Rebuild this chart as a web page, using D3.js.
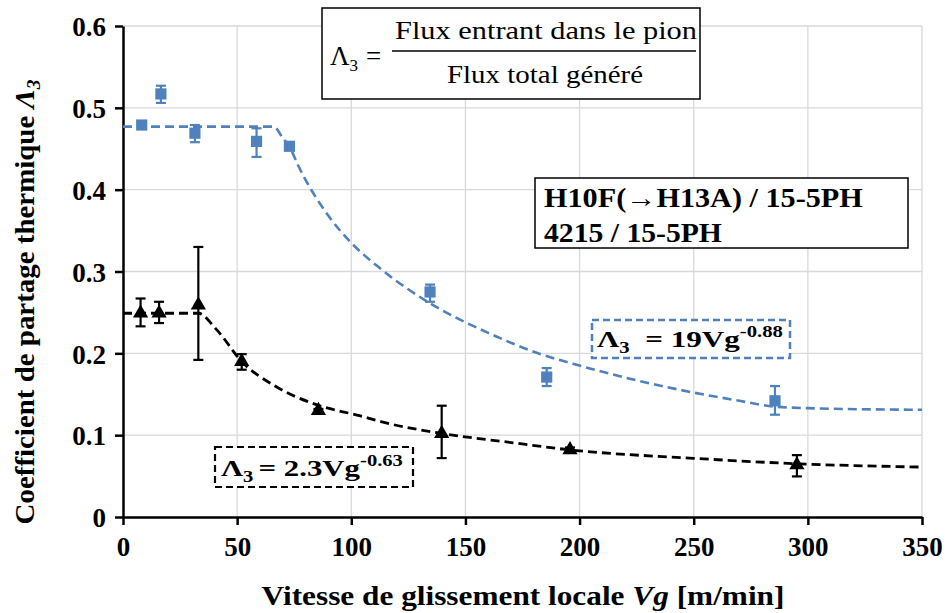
<!DOCTYPE html>
<html><head><meta charset="utf-8">
<script src="https://cdn.jsdelivr.net/npm/d3@7"></script>
<style>
body{margin:0;background:#fff;}
svg{display:block;}
svg text{font-family:"Liberation Serif","Tinos","Times New Roman","Times","DejaVu Serif Condensed","DejaVu Serif","Noto Serif",serif !important; font-stretch:condensed;}
</style></head>
<body><div id="chart"></div>
<script>
// ---- data ----
const xTicks = [0,50,100,150,200,250,300,350];
const yTicks = [0,0.1,0.2,0.3,0.4,0.5,0.6];
const yTickLabels = ["0","0.1","0.2","0.3","0.4","0.5","0.6"];

const seriesNames = ["H10F(\u2192H13A) / 15-5PH","4215 / 15-5PH"];

const blueX = [8.2,16.6,31.5,58.5,72.9,134.5,185.6,285.6];
const blueY = [0.479,0.517,0.469,0.459,0.453,0.275,0.171,0.142];
const blueErrPlus = [0.002,0.010,0.010,0.016,0.003,0.009,0.011,0.018];
const blueErrMinus = [0.002,0.011,0.011,0.019,0.003,0.012,0.011,0.017];

const blackX = [7.7,15.8,33,52,85.6,139.6,195.8,295.2];
const blackY = [0.249,0.249,0.259,0.19,0.130,0.102,0.082,0.0636];
const blackErrPlus = [0.018,0.014,0.071,0.009,0.002,0.034,0.003,0.012];
const blackErrMinus = [0.016,0.012,0.067,0.010,0.002,0.030,0.003,0.014];

// fitted curves
const blueFitX = [0,66,70,73,77,90,100,113,134,160,183,200,225,250,270,285,300,350];
const blueFitY = [0.477,0.477,0.463,0.452,0.428,0.368,0.335,0.303,0.262,0.225,0.199,0.185,0.167,0.152,0.142,0.135,0.133,0.131];
const blackFitX = [0,33,41,52,66,85,104,113,140,170,196,250,296,350];
const blackFitY = [0.249,0.249,0.229,0.19,0.161,0.137,0.1235,0.1165,0.102,0.091,0.082,0.0717,0.065,0.061];

// ---- layout ----
const W = 947, H = 613;
const m = {left:123, right:947-922, top:26, bottom:613-517};
const blue = "#4f81bd";
const svg = d3.select("#chart").append("svg").attr("width",W).attr("height",H);

const x = d3.scaleLinear().domain([0,350]).range([m.left, W-m.right]);
const y = d3.scaleLinear().domain([0,0.6]).range([H-m.bottom, m.top]);

// scale a text horizontally so that it covers a given width, around a pivot x
function fitX(sel, pivot, target, pre){
  const w = sel.node().getBBox().width;
  const s = target / w;
  sel.attr("transform", `${pre||""} translate(${pivot},0) scale(${s},1) translate(${-pivot},0)`);
}

// gridlines
svg.append("g").selectAll("line").data(yTicks.slice(1)).join("line")
  .attr("x1",x(0)).attr("x2",x(350)).attr("y1",d=>y(d)).attr("y2",d=>y(d))
  .attr("stroke","#d9d9d9").attr("stroke-width",1.3);
svg.append("g").selectAll("line").data(xTicks.slice(1)).join("line")
  .attr("x1",d=>x(d)).attr("x2",d=>x(d)).attr("y1",y(0)).attr("y2",y(0.6))
  .attr("stroke","#d9d9d9").attr("stroke-width",1.3);

// axes
const xAxis = svg.append("g").attr("transform",`translate(0,${y(0)})`)
  .call(d3.axisBottom(x).tickValues(xTicks).tickSize(8).tickPadding(12).tickSizeOuter(0));
const yAxis = svg.append("g").attr("transform",`translate(${x(0)},0)`)
  .call(d3.axisLeft(y).tickValues(yTicks).tickFormat((d,i)=>yTickLabels[i]).tickSize(8).tickPadding(9).tickSizeOuter(0));
[xAxis,yAxis].forEach(g=>{
  g.select(".domain").attr("stroke","#000").attr("stroke-width",2.5);
  g.selectAll(".tick line").attr("stroke","#000").attr("stroke-width",2.5);
  g.selectAll(".tick text").attr("fill","#000").attr("font-weight","bold").attr("font-size",27);
});
yAxis.selectAll(".tick text").attr("dy","0.36em");

// axis titles
const xt = svg.append("text").attr("x",523).attr("y",605).attr("text-anchor","middle")
  .attr("font-weight","bold").attr("font-size",28);
xt.append("tspan").text("Vitesse de glissement locale ");
xt.append("tspan").attr("font-style","italic").text("Vg");
xt.append("tspan").text(" [m/min]");
fitX(xt, 523, 523);

const yt = svg.append("text").attr("x",0).attr("y",0).attr("text-anchor","middle")
  .attr("font-weight","bold").attr("font-size",27);
yt.append("tspan").text("Coefficient de partage thermique ");
yt.append("tspan").attr("font-style","italic").text("\u039B");
yt.append("tspan").attr("font-style","italic").attr("font-size",18).attr("dy",6).text("3");
fitX(yt, 0, 445, "translate(34,302) rotate(-90)");

// fit lines
const line = d3.line().x(d=>x(d[0])).y(d=>y(d[1])).curve(d3.curveMonotoneX);
svg.append("path").datum(blueFitX.map((v,i)=>[v,blueFitY[i]])).attr("d",line)
  .attr("fill","none").attr("stroke",blue).attr("stroke-width",2.6).attr("stroke-dasharray","9,5");
svg.append("path").datum(blackFitX.map((v,i)=>[v,blackFitY[i]])).attr("d",line)
  .attr("fill","none").attr("stroke","#000").attr("stroke-width",2.8).attr("stroke-dasharray","9,5");

// error bars + markers
function drawSeries(xs,ys,ep,em,color,sym,size){
  const g = svg.append("g");
  const data = xs.map((v,i)=>({x:v,y:ys[i],p:ep[i],m:em[i]}));
  const eb = g.selectAll("g").data(data).join("g");
  eb.append("line").attr("x1",d=>x(d.x)).attr("x2",d=>x(d.x)).attr("y1",d=>y(d.y+d.p)).attr("y2",d=>y(d.y-d.m))
    .attr("stroke",color).attr("stroke-width",2.2);
  eb.append("line").attr("x1",d=>x(d.x)-5).attr("x2",d=>x(d.x)+5).attr("y1",d=>y(d.y+d.p)).attr("y2",d=>y(d.y+d.p))
    .attr("stroke",color).attr("stroke-width",2.2);
  eb.append("line").attr("x1",d=>x(d.x)-5).attr("x2",d=>x(d.x)+5).attr("y1",d=>y(d.y-d.m)).attr("y2",d=>y(d.y-d.m))
    .attr("stroke",color).attr("stroke-width",2.2);
  g.selectAll("path").data(data).join("path")
    .attr("d",d3.symbol().type(sym).size(size))
    .attr("transform",d=>`translate(${x(d.x)},${y(d.y)})`).attr("fill",color);
}
drawSeries(blueX,blueY,blueErrPlus,blueErrMinus,blue,d3.symbolSquare,125);
drawSeries(blackX,blackY,blackErrPlus,blackErrMinus,"#000",d3.symbolTriangle,100);

// formula box
svg.append("rect").attr("x",322).attr("y",8).attr("width",378).attr("height",91)
  .attr("fill","#fff").attr("stroke","#000").attr("stroke-width",1.5);
const fl = svg.append("text").attr("x",330).attr("y",65).attr("font-size",27);
fl.append("tspan").text("\u039B");
fl.append("tspan").attr("font-size",17).attr("dy",6).text("3");
fl.append("tspan").attr("dy",-6).attr("x",366).text("=");
svg.append("line").attr("x1",392).attr("x2",696).attr("y1",51).attr("y2",51).attr("stroke","#000").attr("stroke-width",1.5);
const num = svg.append("text").attr("x",546).attr("y",39).attr("text-anchor","middle").attr("font-size",26).text("Flux entrant dans le pion");
fitX(num, 546, 302);
const den = svg.append("text").attr("x",545).attr("y",83).attr("text-anchor","middle").attr("font-size",26).text("Flux total g\u00e9n\u00e9r\u00e9");
fitX(den, 545, 196);

// legend box
svg.append("rect").attr("x",535).attr("y",178).attr("width",373).attr("height",70)
  .attr("fill","#fff").attr("stroke","#000").attr("stroke-width",1.5);
const legTargets = [319,178];
svg.append("g").selectAll("text").data(seriesNames).join("text")
  .attr("x",544).attr("y",(d,i)=>207+i*35).attr("font-weight","bold").attr("font-size",27).text(d=>d)
  .each(function(d,i){ fitX(d3.select(this), 544, legTargets[i]); });

// blue equation box
svg.append("rect").attr("x",592).attr("y",320).attr("width",198).attr("height",38)
  .attr("fill","#fff").attr("stroke",blue).attr("stroke-width",2.5).attr("stroke-dasharray","7,4");
const be = svg.append("text").attr("x",597).attr("y",347).attr("font-weight","bold").attr("font-size",24).attr("fill","#000");
be.append("tspan").text("\u039B");
be.append("tspan").attr("font-size",16).attr("dy",6).text("3");
be.append("tspan").attr("dy",-6).attr("dx",12).text("= 19Vg");
be.append("tspan").attr("font-size",16).attr("dy",-10).text("-0.88");
fitX(be, 597, 186);

// black equation box
svg.append("rect").attr("x",215).attr("y",447).attr("width",198).attr("height",40)
  .attr("fill","#fff").attr("stroke","#000").attr("stroke-width",2.2).attr("stroke-dasharray","7,4");
const ke = svg.append("text").attr("x",221).attr("y",476).attr("font-weight","bold").attr("font-size",24).attr("fill","#000");
ke.append("tspan").text("\u039B");
ke.append("tspan").attr("font-size",16).attr("dy",6).text("3");
ke.append("tspan").attr("dy",-6).attr("dx",4).text("= 2.3Vg");
ke.append("tspan").attr("font-size",16).attr("dy",-10).text("-0.63");
fitX(ke, 221, 182);
</script></body></html>
